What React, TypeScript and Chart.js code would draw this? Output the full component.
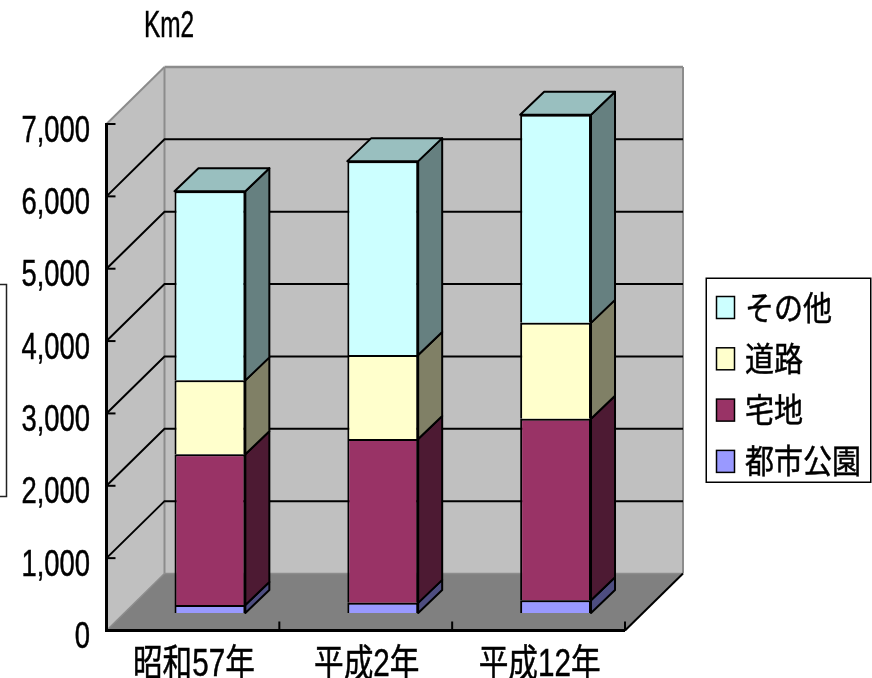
import React, { useEffect, useRef } from "react";
import { Chart, registerables } from "chart.js";

Chart.register(...registerables);

const categories = ["昭和57年", "平成2年", "平成12年"];
const parkArea = [110, 140, 175];
const residentialArea = [2085, 2265, 2510];
const roadArea = [1020, 1160, 1325];
const otherArea = [2615, 2680, 2875];
const unitLabel = "Km2";

const FONT = '"Liberation Sans", "Noto Sans CJK JP", sans-serif';
const WALL = "#c0c0c0";
const FLOOR = "#808080";
const WALL_EDGE = "#8c8c8c";
const INK = "#000000";

// Oblique projection: how far the back wall sits from the front plane, and
// where the bar plane and bar depth fall inside that.
const DEPTH = { x: 58, y: -57 };
const BAR_SHIFT = { x: 17, y: -17.5 };
const BAR_DEPTH = { x: 24, y: -23 };

function shade(hex: string, f: number): string {
  const n = parseInt(hex.slice(1), 16);
  const c = [(n >> 16) & 255, (n >> 8) & 255, n & 255].map((v) => Math.round(v * f));
  return `rgb(${c[0]},${c[1]},${c[2]})`;
}

function poly(ctx: CanvasRenderingContext2D, pts: number[][], fill?: string, stroke?: string, lw = 2) {
  ctx.beginPath();
  pts.forEach(([x, y], i) => (i ? ctx.lineTo(x, y) : ctx.moveTo(x, y)));
  ctx.closePath();
  if (fill) {
    ctx.fillStyle = fill;
    ctx.fill();
  }
  if (stroke) {
    ctx.strokeStyle = stroke;
    ctx.lineWidth = lw;
    ctx.lineJoin = "round";
    ctx.stroke();
  }
}

function line(ctx: CanvasRenderingContext2D, x1: number, y1: number, x2: number, y2: number, color: string, lw: number) {
  ctx.beginPath();
  ctx.moveTo(x1, y1);
  ctx.lineTo(x2, y2);
  ctx.strokeStyle = color;
  ctx.lineWidth = lw;
  ctx.stroke();
}

// Horizontally condensed text, as the chart's labels are set narrow.
function narrowText(
  ctx: CanvasRenderingContext2D,
  text: string,
  x: number,
  y: number,
  size: number,
  squeeze: number,
  align: CanvasTextAlign
) {
  ctx.save();
  ctx.font = `${size}px ${FONT}`;
  ctx.fillStyle = INK;
  ctx.strokeStyle = INK;
  ctx.lineWidth = 0.5;
  ctx.textBaseline = "alphabetic";
  ctx.textAlign = align;
  ctx.translate(x, y);
  ctx.scale(squeeze, 1);
  ctx.fillText(text, 0, 0);
  ctx.strokeText(text, 0, 0);
  ctx.restore();
}

const scene3d = {
  id: "scene3d",
  beforeDatasetsDraw(chart: any) {
    const { ctx, chartArea: a, scales } = chart;
    const y = scales.y;
    const x = scales.x;
    const { left: l, right: r, top: t, bottom: b } = a;
    const dx = DEPTH.x;
    const dy = DEPTH.y;

    ctx.save();
    // Back wall, side wall and floor
    poly(ctx, [[l + dx, t + dy], [r + dx, t + dy], [r + dx, b + dy], [l + dx, b + dy]], WALL);
    poly(ctx, [[l, t], [l + dx, t + dy], [l + dx, b + dy], [l, b]], WALL);
    poly(ctx, [[l, b], [l + dx, b + dy], [r + dx, b + dy], [r, b]], FLOOR);

    // Grey wall outlines
    line(ctx, l, t, l + dx, t + dy, WALL_EDGE, 2);
    line(ctx, l + dx, t + dy, r + dx, t + dy, WALL_EDGE, 2.5);
    line(ctx, r + dx, t + dy, r + dx, b + dy, WALL_EDGE, 2);
    line(ctx, l + dx, t + dy, l + dx, b + dy, WALL_EDGE, 2);
    line(ctx, l, b, l + dx, b + dy, WALL_EDGE, 1.5);
    line(ctx, l + dx, b + dy, r + dx, b + dy, WALL_EDGE, 1.5);

    // Gridlines wrap from the side wall onto the back wall
    y.ticks.forEach((tick: any) => {
      if (tick.value === 0 || tick.value === y.max) return;
      const py = y.getPixelForValue(tick.value);
      ctx.beginPath();
      ctx.moveTo(l, py);
      ctx.lineTo(l + dx, py + dy);
      ctx.lineTo(r + dx, py + dy);
      ctx.strokeStyle = INK;
      ctx.lineWidth = 2;
      ctx.lineJoin = "miter";
      ctx.stroke();
    });

    // Front axes with inward ticks
    line(ctx, l, t - 1, l, b + 1.5, INK, 3);
    line(ctx, l, b, r, b, INK, 3);
    line(ctx, r, b, r + dx, b + dy, INK, 2);
    y.ticks.forEach((tick: any) => {
      const py = y.getPixelForValue(tick.value);
      line(ctx, l, py, l + 9, py, INK, 2);
    });
    const step = (r - l) / categories.length;
    categories.forEach((_, i) => {
      const px = x.getPixelForValue(i) + step / 2;
      line(ctx, px, b, px, b - 9, INK, 2);
    });

    // Side and top faces of every bar segment, then the fronts in the shifted plane
    ctx.translate(BAR_SHIFT.x, BAR_SHIFT.y);
    const bdx = BAR_DEPTH.x;
    const bdy = BAR_DEPTH.y;
    const count = chart.data.datasets.length;
    chart.data.datasets.forEach((ds: any, di: number) => {
      chart.getDatasetMeta(di).data.forEach((bar: any) => {
        const p = bar.getProps(["x", "y", "base", "width"], true);
        const right = p.x + p.width / 2;
        const left = p.x - p.width / 2;
        poly(
          ctx,
          [[right, p.y], [right + bdx, p.y + bdy], [right + bdx, p.base + bdy], [right, p.base]],
          shade(ds.backgroundColor, 0.5),
          INK
        );
        if (di === count - 1) {
          poly(
            ctx,
            [[left, p.y], [left + bdx, p.y + bdy], [right + bdx, p.y + bdy], [right, p.y]],
            shade(ds.backgroundColor, 0.75),
            INK
          );
        }
      });
    });
  },
  afterDatasetsDraw(chart: any) {
    const { ctx, scales } = chart;
    ctx.restore();

    // Axis labels
    scales.y.ticks.forEach((tick: any) => {
      const py = scales.y.getPixelForValue(tick.value);
      narrowText(ctx, tick.label, 90, py + 17.5, 37, 0.74, "right");
    });
    categories.forEach((label, i) => {
      const px = scales.x.getPixelForValue(i) + 1;
      narrowText(ctx, label, px, 676, 38, 0.78, "center");
    });
    narrowText(ctx, unitLabel, 169, 37, 37, 0.66, "center");

    // Legend: series listed top-down in reverse stacking order
    ctx.save();
    ctx.fillStyle = "#ffffff";
    ctx.fillRect(706, 278, 165, 204);
    ctx.strokeStyle = INK;
    ctx.lineWidth = 1.5;
    ctx.strokeRect(706.25, 278.25, 164.5, 204);
    const rows = [...chart.data.datasets].reverse();
    rows.forEach((ds: any, i: number) => {
      const cy = 307.5 + i * 51.3;
      ctx.fillStyle = ds.backgroundColor;
      ctx.fillRect(716.5, cy - 11, 18, 22);
      ctx.strokeStyle = INK;
      ctx.lineWidth = 1.5;
      ctx.strokeRect(716.5, cy - 11, 18, 22);
      narrowText(ctx, ds.label, 745, cy + 12, 33, 0.88, "left");
    });
    ctx.restore();

    // Frame of a neighbouring box cut off at the left edge
    ctx.save();
    ctx.beginPath();
    ctx.moveTo(0, 284.5);
    ctx.lineTo(6.5, 284.5);
    ctx.lineTo(6.5, 496.5);
    ctx.lineTo(0, 496.5);
    ctx.strokeStyle = "#222222";
    ctx.lineWidth = 1.5;
    ctx.stroke();
    ctx.restore();
  },
};

export default function App() {
  const canvasRef = useRef<HTMLCanvasElement>(null);

  useEffect(() => {
    const chart = new Chart(canvasRef.current!, {
      type: "bar",
      data: {
        labels: categories,
        datasets: [
          { label: "都市公園", data: parkArea, backgroundColor: "#9999ff" },
          { label: "宅地", data: residentialArea, backgroundColor: "#993366" },
          { label: "道路", data: roadArea, backgroundColor: "#ffffcc" },
          { label: "その他", data: otherArea, backgroundColor: "#ccffff" },
        ].map((d) => ({
          ...d,
          borderColor: INK,
          borderWidth: 2,
          barPercentage: 1,
          categoryPercentage: 0.41,
          clip: false as const,
        })),
      },
      options: {
        animation: false,
        responsive: false,
        layout: { padding: { left: 106.5, right: 247, top: 124, bottom: 47.5 } },
        plugins: { legend: { display: false }, title: { display: false }, tooltip: { enabled: false } },
        scales: {
          x: {
            stacked: true,
            grid: { display: false, drawTicks: false, tickLength: 0 },
            border: { display: false },
            ticks: { display: false, padding: 0 },
          },
          y: {
            stacked: true,
            min: 0,
            max: 7000,
            grid: { display: false, drawTicks: false, tickLength: 0 },
            border: { display: false },
            ticks: {
              display: false,
              padding: 0,
              stepSize: 1000,
              callback: (v: any) => Number(v).toLocaleString("en-US"),
            },
          },
        },
      },
      plugins: [scene3d],
    });
    return () => chart.destroy();
  }, []);

  return (
    <div style={{ position: "absolute", left: 0, top: 0, width: 872, height: 678 }}>
      <canvas ref={canvasRef} width={872} height={678} style={{ display: "block" }} />
    </div>
  );
}
